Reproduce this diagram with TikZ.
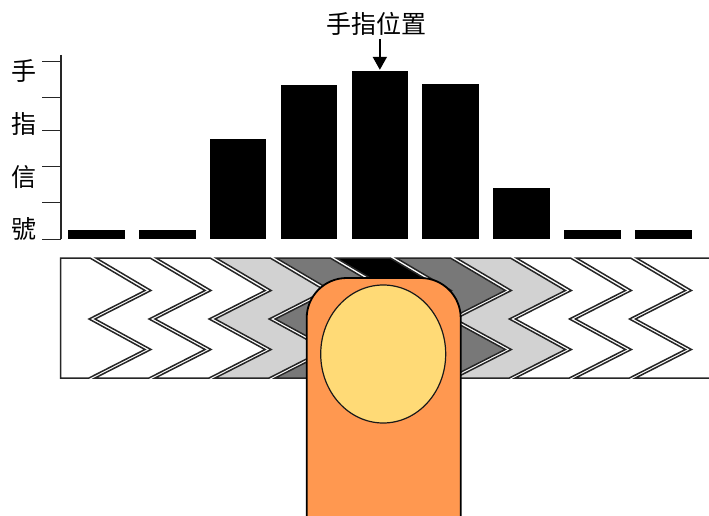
\documentclass[tikz,border=0pt]{standalone}
\usepackage{fontspec}
\newfontfamily\cjk{Noto Sans CJK TC}
\usetikzlibrary{arrows.meta}
\definecolor{padlight}{RGB}{210,210,210}
\definecolor{paddark}{RGB}{120,120,120}
\definecolor{fingerorange}{RGB}{255,152,80}
\definecolor{nailyellow}{RGB}{255,218,118}
\tikzset{
  sigbar/.style={fill=black, inner sep=0pt, minimum width=56.7pt, anchor=south west},
  axisline/.style={line width=1.3pt, black!85},
  pad/.style={draw=black!85, line width=1.5pt, line join=miter},
  cjktext/.style={font=\cjk\fontsize{25}{25}\selectfont, inner sep=0pt},
  finger/.style={draw=black, line width=1.8pt, fill=fingerorange, rounded corners=40pt},
  nail/.style={draw=black!90, line width=1.2pt, fill=nailyellow},
  pointer/.style={-{Triangle[width=14pt,length=13pt]}, line width=2pt},
}
\begin{document}
\begin{tikzpicture}[x=1pt,y=-1pt]
\clip (0,0) rectangle (709,516);
\fill[white] (0,0) rectangle (709,516);

% signal axis with ticks
\draw[axisline] (61,55) -- (61,239.3);
\foreach \t in {61.7,97.3,130.7,166.7,202.7,239.3}
  \draw[axisline] (42,\t) -- (61,\t);
\node[cjktext] (l1) at (23.5,71) {手};
\node[cjktext] (l2) at (23.5,123.5) {指};
\node[cjktext] (l3) at (23.5,177) {信};
\node[cjktext] (l4) at (23.5,229) {號};

% signal bars
\foreach \i/\tp in {1/230,2/230,3/139,4/85,5/71.7,6/84.3,7/188.3,8/230,9/230} {
  \pgfmathsetmacro\bx{67.7+70.9*(\i-1)}
  \pgfmathsetmacro\bh{239.3-\tp}
  \node[sigbar, minimum height=\bh pt] (b\i) at (\bx,239.3) {};
}

% finger position label and arrow
\node[cjktext] (title) at (376.5,24) {手指位置};
\draw[pointer, shorten <=3pt, shorten >=1.5pt] (b5.north |- title.south) -- (b5.north);

% chevron electrodes
% first electrode: straight left edge
\filldraw[pad, fill=white] (60.7,258) -- (90,258) -- (145,290.5) -- (89,319) -- (145,349.5) -- (89,378) -- (60.7,378) -- cycle;
% inner electrodes
\foreach \k/\col in {2/white,3/white,4/padlight,5/paddark,6/black,7/paddark,8/padlight,9/white,10/white} {
  \pgfmathsetmacro\A{92+60.05*(\k-2)+3}
  \pgfmathsetmacro\B{92+60.05*(\k-1)-3}
  \filldraw[pad, fill=\col] (\A+1,258) -- (\B+1,258) -- (\B+56,290.5) -- (\B,319) -- (\B+56,349.5) -- (\B,378)
     -- (\A,378) -- (\A+56,349.5) -- (\A,319) -- (\A+56,290.5) -- cycle;
}
% last electrode: runs off the right edge
\pgfmathsetmacro\A{92+60.05*9+3}
\filldraw[pad, fill=white] (\A+1,258) -- (720,258) -- (720,378) -- (\A,378) -- (\A+56,349.5) -- (\A,319) -- (\A+56,290.5) -- cycle;

% finger with fingernail
\draw[finger] (306.7,540) -- (306.7,278) -- (460.7,278) -- (460.7,540);
\draw[nail] (383.2,354) ellipse [x radius=62.5, y radius=69];
\end{tikzpicture}
\end{document}
